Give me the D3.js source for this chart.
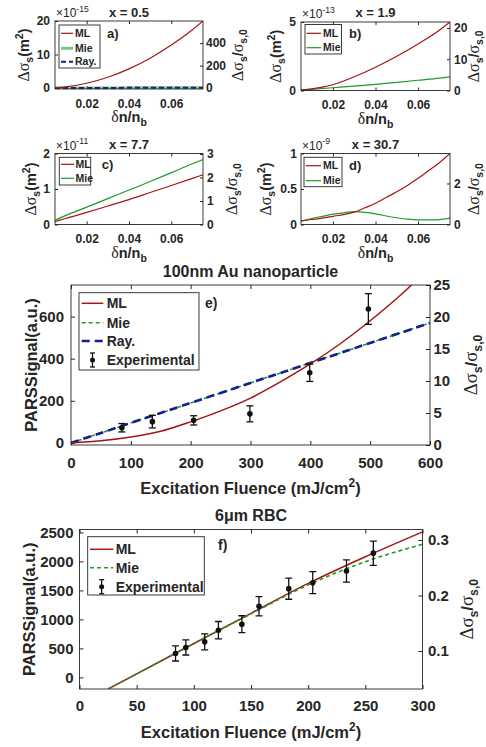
<!DOCTYPE html>
<html>
<head>
<meta charset="utf-8">
<script src="https://cdn.jsdelivr.net/npm/d3@7"></script>
<style>
  body { margin: 0; background: #fff; }
  text { font-family: "Liberation Sans", Arial, sans-serif; font-weight: bold; fill: #262626; }
</style>
</head>
<body>
<svg width="486" height="747"></svg>
<script>
// ---- data ----
const dn = [0.005, 0.01, 0.02, 0.03, 0.04, 0.05, 0.06, 0.07, 0.075];
const dnFine = [0.005, 0.01, 0.015, 0.02, 0.025, 0.03, 0.035, 0.04, 0.045, 0.05, 0.055, 0.06, 0.065, 0.07, 0.075];
const dnTicks = [0.02, 0.04, 0.06];

// a) x = 0.5  (x1e-15 m^2)
const mlA = [0.09, 0.36, 1.42, 3.2, 5.7, 8.9, 12.8, 17.4, 20];
const mieA = [0.0, 0.01, 0.02, 0.03, 0.04, 0.05, 0.06, 0.07, 0.08];
const rayA = [0.0, 0.01, 0.02, 0.03, 0.04, 0.05, 0.06, 0.07, 0.08];
// b) x = 1.9  (x1e-13 m^2)
const mlB = [0.03, 0.12, 0.42, 1.0, 1.7, 2.5, 3.4, 4.4, 5.0];
const mieB = [0.02, 0.08, 0.2, 0.32, 0.45, 0.6, 0.75, 0.9, 1.0];
// c) x = 7.7  (x1e-11 m^2)
const mlC = [0.08, 0.17, 0.34, 0.52, 0.70, 0.90, 1.10, 1.30, 1.40];
const mieC = [0.12, 0.25, 0.49, 0.73, 0.97, 1.21, 1.46, 1.71, 1.83];
// d) x = 30.7 (x1e-9 m^2)
const mlD = [0.05, 0.07, 0.09, 0.115, 0.14, 0.175, 0.235, 0.30, 0.38, 0.46, 0.55, 0.65, 0.76, 0.87, 1.0];
const mieD = [0.05, 0.085, 0.115, 0.145, 0.165, 0.18, 0.17, 0.15, 0.12, 0.095, 0.075, 0.065, 0.065, 0.07, 0.09];

// e) 100nm Au nanoparticle
const fluE = [0, 50, 100, 150, 200, 250, 300, 350, 400, 450, 500, 550, 600];
const mlE = [0, 10, 28, 55, 100, 152, 213, 290, 375, 471, 580, 700, 835];
const mieE = [0, 47, 95, 142, 190, 237, 285, 332, 380, 427, 475, 522, 570];
const rayE = [0, 47, 95, 142, 190, 237, 285, 332, 380, 427, 475, 522, 570];
const expXE = [85, 136, 205, 299, 399, 497];
const expYE = [72, 101, 107, 138, 333, 636];
const expErrE = [20, 30, 22, 38, 41, 73];

// f) 6um RBC
const fluF = [25, 50, 100, 150, 200, 250, 300];
const mlF = [-200, 60, 585, 1105, 1620, 2080, 2510];
const mieF = [-200, 60, 583, 1095, 1595, 1995, 2295];
const expXF = [84, 93, 109.5, 121.5, 142, 157, 183, 204, 233.5, 257];
const expYF = [413, 516, 613, 814, 917, 1226, 1530, 1633, 1833, 2142];
const expErrF = [130, 130, 137, 150, 146, 166, 183, 189, 192, 209];

const INK = "#262626";
const RED = "#a31515", GREEN = "#22992a", LGREEN = "#7cc87c", NAVY = "#141e8c";
const svg = d3.select("svg");
const fmt = d3.format("~g");

// text with greek (serif), sub- and superscripts
function rich(t, parts, fs) {
  let cur = 0;
  for (const [s, k] of parts) {
    const sp = t.append("tspan").text(s);
    let off = 0, size = fs;
    if (k === "sub") { off = 0.28 * fs; size = 0.72 * fs; }
    if (k === "sup") { off = -0.42 * fs; size = 0.72 * fs; }
    if (k === "g") size = 1.1 * fs;
    if (off !== cur) sp.attr("dy", off - cur);
    sp.attr("font-size", size);
    if (k === "g") sp.style("font-family", "'Liberation Serif', serif").style("font-weight", "normal");
    cur = off;
  }
}

const labDs = [["Δσ", "g"], ["s", "sub"], ["(m", "n"], ["2", "sup"], [")", "n"]];
const labRatio = [["Δσ", "g"], ["s", "sub"], ["/", "n"], ["σ", "g"], ["s,0", "sub"]];
const labDn = [["δ", "g"], ["n/n", "n"], ["b", "sub"]];
const labFlu = [["Excitation Fluence (mJ/cm", "n"], ["2", "sup"], [")", "n"]];
const labPars = [["PARSSignal(a.u.)", "n"]];

function panel(p) {
  const g = svg.append("g");
  const x = d3.scaleLinear().domain(p.xDom).range([p.x0, p.x1]);
  const yl = d3.scaleLinear().domain(p.yDom).range([p.y1, p.y0]);
  const yr = d3.scaleLinear().domain(p.rDom).range([p.y1, p.y0]);
  const clip = "clip-" + p.name;
  svg.append("clipPath").attr("id", clip).append("rect")
    .attr("x", p.x0).attr("y", p.y0).attr("width", p.x1 - p.x0).attr("height", p.y1 - p.y0);

  const style = s => { s.select(".domain").remove(); s.attr("font-size", p.fs).attr("color", INK); };
  g.append("g").attr("transform", `translate(0,${p.y1})`)
    .call(d3.axisBottom(x).tickValues(p.xTicks).tickFormat(fmt).tickSize(-p.tk).tickPadding(p.padX)).call(style);
  g.append("g").attr("transform", `translate(0,${p.y0})`)
    .call(d3.axisTop(x).tickValues(p.xTicks).tickSize(-p.tk).tickFormat("")).call(style);
  g.append("g").attr("transform", `translate(${p.x0},0)`)
    .call(d3.axisLeft(yl).tickValues(p.yTicks).tickFormat(fmt).tickSize(-p.tk).tickPadding(p.padL)).call(style);
  g.append("g").attr("transform", `translate(${p.x1},0)`)
    .call(d3.axisRight(yr).tickValues(p.rTicks).tickFormat(fmt).tickSize(-p.tk).tickPadding(p.padR)).call(style);

  // series
  const line = d3.line().curve(d3.curveMonotoneX);
  const plot = g.append("g").attr("clip-path", `url(#${clip})`);
  p.series.forEach(s => {
    plot.append("path")
      .attr("d", line(s.x.map((v, i) => [x(v), yl(s.y[i])])))
      .attr("fill", "none").attr("stroke", s.color).attr("stroke-width", s.w)
      .attr("stroke-dasharray", s.dash || null);
  });

  // experimental points with error bars
  if (p.exp) {
    const e = p.exp;
    e.x.forEach((v, i) => {
      const cx = x(v), lo = yl(e.y[i] - e.err[i]), hi = yl(e.y[i] + e.err[i]);
      plot.append("line").attr("x1", cx).attr("x2", cx).attr("y1", lo).attr("y2", hi).attr("stroke", "#111").attr("stroke-width", 1.3);
      [lo, hi].forEach(yy => plot.append("line").attr("x1", cx - 3.5).attr("x2", cx + 3.5)
        .attr("y1", yy).attr("y2", yy).attr("stroke", "#111").attr("stroke-width", 1.3));
      plot.append("circle").attr("cx", cx).attr("cy", yl(e.y[i])).attr("r", 2.8).attr("fill", "#111");
    });
  }

  g.append("rect").attr("x", p.x0).attr("y", p.y0).attr("width", p.x1 - p.x0).attr("height", p.y1 - p.y0)
    .attr("fill", "none").attr("stroke", INK).attr("stroke-width", 0.9);

  // titles and labels
  const cx = (p.x0 + p.x1) / 2, cy = (p.y0 + p.y1) / 2;
  g.append("text").attr("x", cx).attr("y", p.y0 - p.titleOff).attr("text-anchor", "middle")
    .attr("font-size", p.titleFs).text(p.title);
  if (p.expo) {
    const t = g.append("text").attr("x", p.x0 + 1).attr("y", p.y0 - 4).style("font-weight", "normal");
    rich(t, [["×10", "n"], [p.expo, "sup"]], 12);
  }
  rich(g.append("text").attr("text-anchor", "middle").attr("transform", `translate(${p.yLabX},${cy}) rotate(-90)`), p.yLab, p.labFs);
  rich(g.append("text").attr("text-anchor", "middle").attr("transform", `translate(${p.rLabX},${cy}) rotate(-90)`), labRatio, p.rLabFs);
  rich(g.append("text").attr("text-anchor", "middle").attr("x", cx).attr("y", p.y1 + p.xLabOff), p.xLab, p.labFs);
  g.append("text").attr("x", p.tag[0]).attr("y", p.tag[1]).attr("font-size", p.tagFs).text(p.name + ")");

  // legend
  const L = p.legend;
  g.append("rect").attr("x", L.box[0]).attr("y", L.box[1]).attr("width", L.box[2]).attr("height", L.box[3])
    .attr("fill", "#fff").attr("stroke", INK).attr("stroke-width", 0.9);
  L.items.forEach((it, i) => {
    const yy = L.rows[i];
    if (it.exp) {
      const mx = (L.sample[0] + L.sample[1]) / 2;
      g.append("line").attr("x1", mx).attr("x2", mx).attr("y1", yy - 7).attr("y2", yy + 7).attr("stroke", "#111").attr("stroke-width", 1.3);
      [yy - 7, yy + 7].forEach(v => g.append("line").attr("x1", mx - 2.5).attr("x2", mx + 2.5).attr("y1", v).attr("y2", v).attr("stroke", "#111").attr("stroke-width", 1.3));
      g.append("circle").attr("cx", mx).attr("cy", yy).attr("r", 2.5).attr("fill", "#111");
    } else {
      g.append("line").attr("x1", L.sample[0]).attr("x2", L.sample[1]).attr("y1", yy).attr("y2", yy)
        .attr("stroke", it.color).attr("stroke-width", it.w).attr("stroke-dasharray", it.dash || null);
    }
    g.append("text").attr("x", L.textX).attr("y", yy).attr("dy", "0.36em").attr("font-size", L.fs).text(it.label);
  });
}

const smallCfg = { xDom: [0.005, 0.075], xTicks: dnTicks, fs: 12, tk: 3, padX: 10, titleFs: 13, labFs: 14.5, rLabFs: 14.5,
  xLab: labDn, yLab: labDs, tagFs: 13, xLabOff: 33 };
const mlLeg = { label: "ML", color: RED, w: 1.2 };
const mieLeg = { label: "Mie", color: GREEN, w: 1.2 };

panel(Object.assign({}, smallCfg, {
  name: "a", x0: 55, x1: 203, y0: 21, y1: 89, yDom: [-0.3, 20], rDom: [-9, 597],
  yTicks: [0, 10, 20], rTicks: [0, 200, 400], padL: 5, padR: 3, title: "x = 0.5", titleOff: 4, expo: "-15",
  yLabX: 29, rLabX: 243, tag: [107, 38],
  series: [
    { x: dn, y: mieA, color: LGREEN, w: 3 },
    { x: dn, y: rayA, color: NAVY, w: 2, dash: "5,3" },
    { x: dn, y: mlA, color: RED, w: 1.2 }],
  legend: { box: [59, 25, 41, 43], rows: [33.3, 48.3, 61.7], sample: [61, 73], textX: 75, fs: 10.5,
    items: [mlLeg, { label: "Mie", color: LGREEN, w: 3 }, { label: "Ray.", color: NAVY, w: 2, dash: "5,3" }] }
}));

panel(Object.assign({}, smallCfg, {
  name: "b", x0: 301, x1: 450, y0: 22, y1: 90.5, yDom: [0, 5], rDom: [0, 21.9],
  yTicks: [0, 5], rTicks: [0, 10, 20], padL: 5, padR: 4, title: "x = 1.9", titleOff: 5, expo: "-13",
  yLabX: 281, rLabX: 479, tag: [349, 38],
  series: [
    { x: dn, y: mieB, color: GREEN, w: 1.2 },
    { x: dn, y: mlB, color: RED, w: 1.2 }],
  legend: { box: [305, 24.5, 36.5, 29.5], rows: [33.3, 47.7], sample: [306.5, 321], textX: 323, fs: 10.5,
    items: [mlLeg, mieLeg] }
}));

panel(Object.assign({}, smallCfg, {
  name: "c", x0: 55, x1: 203, y0: 153.5, y1: 224.5, yDom: [0, 2], rDom: [0, 3.02],
  yTicks: [0, 1, 2], rTicks: [0, 1, 2, 3], padL: 5, padR: 4, title: "x = 7.7", titleOff: 5, expo: "-11",
  yLabX: 36, rLabX: 237, tag: [101.7, 168.5],
  series: [
    { x: dn, y: mieC, color: GREEN, w: 1.2 },
    { x: dn, y: mlC, color: RED, w: 1.2 }],
  legend: { box: [59.3, 157.3, 31.4, 27.7], rows: [164.3, 178.3], sample: [61, 74], textX: 75.5, fs: 10.5,
    items: [mlLeg, mieLeg] }
}));

panel(Object.assign({}, smallCfg, {
  name: "d", x0: 301, x1: 450, y0: 153.5, y1: 224.5, yDom: [0, 1], rDom: [0, 3.46],
  yTicks: [0, 0.5, 1], rTicks: [0, 2], padL: 4, padR: 4, title: "x = 30.7", titleOff: 5, expo: "-9",
  yLabX: 271, rLabX: 479, tag: [349, 169.5],
  series: [
    { x: dnFine, y: mieD, color: GREEN, w: 1.2 },
    { x: dnFine, y: mlD, color: RED, w: 1.2 }],
  legend: { box: [304, 157.3, 38, 29.4], rows: [165.7, 180.7], sample: [305.7, 321], textX: 323, fs: 10.5,
    items: [mlLeg, mieLeg] }
}));

const bigCfg = { fs: 15, tk: 4, titleFs: 16, labFs: 16.5, rLabFs: 17, xLab: labFlu, yLab: labPars, tagFs: 14, xLabOff: 49 };

panel(Object.assign({}, bigCfg, {
  name: "e", x0: 71, x1: 430, y0: 285, y1: 445, xDom: [0, 600], yDom: [-10, 750], rDom: [0, 25],
  xTicks: [0, 100, 200, 300, 400, 500, 600], yTicks: [0, 200, 400, 600], rTicks: [0, 5, 10, 15, 20, 25],
  padX: 12, padL: 7, padR: 3.5, title: "100nm Au nanoparticle", titleOff: 8,
  yLabX: 36.5, rLabX: 477, tag: [205, 308],
  series: [
    { x: fluE, y: mieE, color: GREEN, w: 1.6, dash: "4,3" },
    { x: fluE, y: rayE, color: NAVY, w: 2.6, dash: "8,5" },
    { x: fluE, y: mlE, color: RED, w: 1.5 }],
  exp: { x: expXE, y: expYE, err: expErrE },
  legend: { box: [79, 292.7, 120, 77.3], rows: [303.3, 322.7, 341, 360], sample: [81.7, 103.3], textX: 106.7, fs: 14,
    items: [{ label: "ML", color: RED, w: 1.5 }, { label: "Mie", color: GREEN, w: 1.6, dash: "4,3" },
      { label: "Ray.", color: NAVY, w: 2.6, dash: "8,5" }, { label: "Experimental", exp: true }] }
}));

panel(Object.assign({}, bigCfg, {
  name: "f", x0: 79.5, x1: 422.5, y0: 529.5, y1: 689, xDom: [0, 300], yDom: [-200, 2550], rDom: [0.0315, 0.319],
  xTicks: [0, 50, 100, 150, 200, 250, 300], yTicks: [0, 500, 1000, 1500, 2000, 2500], rTicks: [0.1, 0.2, 0.3],
  padX: 11, padL: 6, padR: 5.5, title: "6μm RBC", titleOff: 9,
  yLabX: 35, rLabX: 473, tag: [218, 550],
  series: [
    { x: fluF, y: mlF, color: RED, w: 1.5 },
    { x: fluF, y: mieF, color: GREEN, w: 1.6, dash: "4,3" }],
  exp: { x: expXF, y: expYF, err: expErrF },
  legend: { box: [87.7, 536.7, 116.6, 58.3], rows: [549.3, 567.7, 586.7], sample: [90, 113.3], textX: 115.7, fs: 14,
    items: [{ label: "ML", color: RED, w: 1.5 }, { label: "Mie", color: GREEN, w: 1.6, dash: "4,3" },
      { label: "Experimental", exp: true }] }
}));
</script>
</body>
</html>
